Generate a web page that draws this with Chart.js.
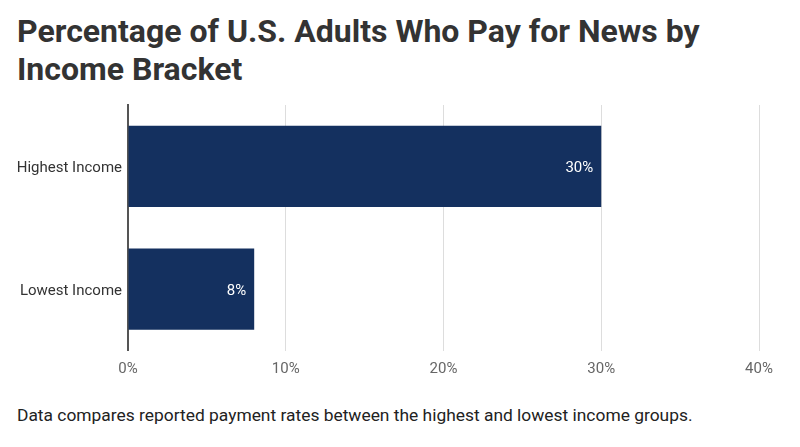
<!DOCTYPE html>
<html>
<head>
<meta charset="utf-8">
<script src="https://cdn.jsdelivr.net/npm/chart.js@4.4.1/dist/chart.umd.min.js"></script>
<style>
  html, body { margin: 0; padding: 0; background: #ffffff; }
  body { width: 800px; height: 447px; position: relative; overflow: hidden; font-family: Roboto, "Noto Sans", sans-serif; }
  #title { position: absolute; left: 17px; top: 12px; width: 780px; font-size: 32px; line-height: 38px; font-weight: 700; color: #333333; }
  #wrap { position: absolute; left: 0; top: 95px; width: 800px; height: 290px; }
  #footer { position: absolute; left: 17px; top: 404px; font-size: 17.4px; line-height: 22px; color: #222222; }
</style>
</head>
<body>
<div id="title">Percentage of U.S. Adults Who Pay for News by<br>Income Bracket</div>
<div id="wrap"><canvas id="c"></canvas></div>
<div id="footer">Data compares reported payment rates between the highest and lowest income groups.</div>
<script>
const categories = ['Highest Income', 'Lowest Income'];
const values = [30, 8];
const tickValues = [0, 10, 20, 30, 40];

const barLabels = {
  id: 'barLabels',
  afterDatasetsDraw(chart) {
    const ctx = chart.ctx;
    const meta = chart.getDatasetMeta(0);
    ctx.save();
    ctx.font = '15px Roboto, sans-serif';
    ctx.fillStyle = '#ffffff';
    ctx.textAlign = 'right';
    ctx.textBaseline = 'middle';
    meta.data.forEach((bar, i) => {
      ctx.fillText(values[i] + '%', bar.x - 8, bar.y + 2);
    });
    ctx.restore();
  }
};

new Chart(document.getElementById('c'), {
  type: 'bar',
  data: {
    labels: categories,
    datasets: [{
      data: values,
      backgroundColor: '#14305f',
      borderWidth: 0,
      barPercentage: 0.66,
      categoryPercentage: 1.0
    }]
  },
  options: {
    indexAxis: 'y',
    responsive: true,
    maintainAspectRatio: false,
    animation: false,
    layout: { padding: { left: 0, right: 41, top: 10, bottom: 0 } },
    plugins: { legend: { display: false }, tooltip: { enabled: false } },
    scales: {
      x: {
        min: 0, max: 40,
        afterBuildTicks(scale) { scale.ticks = tickValues.map(v => ({ value: v })); },
        grid: { color: '#dddddd', lineWidth: 1, drawTicks: false },
        border: { display: false },
        ticks: {
          padding: 10,
          color: '#666666',
          font: { family: 'Roboto', size: 15 },
          callback: v => v + '%'
        },
        afterFit(scale) { scale.height = 34.5; scale.paddingLeft = 0; scale.paddingRight = 0; }
      },
      y: {
        grid: { display: false, drawTicks: false },
        border: { display: true, color: '#555555', width: 2 },
        ticks: {
          padding: 6,
          labelOffset: 2,
          color: '#333333',
          font: { family: 'Roboto', size: 15 }
        },
        afterFit(scale) { scale.width = 128; scale.paddingTop = 0; scale.paddingBottom = 0; }
      }
    }
  },
  plugins: [barLabels]
});
</script>
</body>
</html>
